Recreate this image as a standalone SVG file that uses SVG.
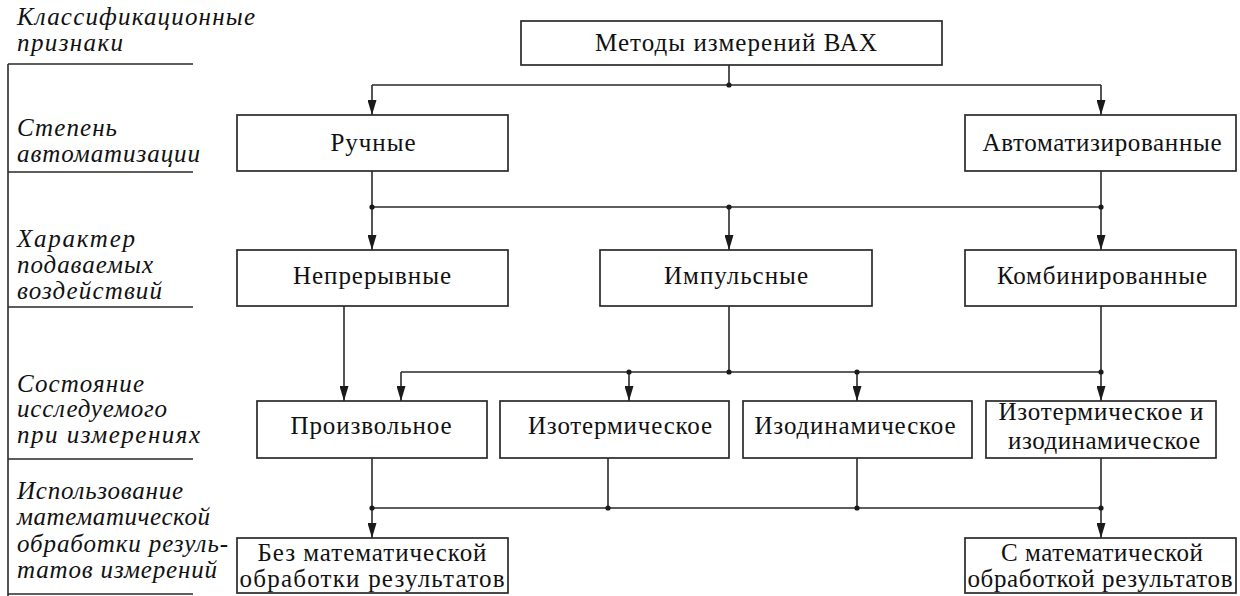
<svg xmlns="http://www.w3.org/2000/svg" width="1240" height="596" viewBox="0 0 1240 596">
<style>
.box{fill:#fff;stroke:#2a2a2a;stroke-width:1.7}
.t{font-family:"Liberation Serif","Times New Roman",serif;font-size:25px;fill:#111;text-anchor:middle}
.lab{font-family:"Liberation Serif","Times New Roman",serif;font-size:25px;font-style:italic;fill:#111}
.ln{fill:none;stroke:#2a2a2a;stroke-width:1.6}
.dot{fill:#1a1a1a}
</style>
<defs>
<marker id="arr" viewBox="0 0 15 9" refX="15" refY="4.5" markerWidth="15" markerHeight="9" markerUnits="userSpaceOnUse" orient="auto">
<path d="M0,0 L15,4.5 L0,9 z" fill="#1a1a1a"/>
</marker>
</defs>
<rect width="1240" height="596" fill="#fff"/>

<g id="classification-axis">
<path class="ln" d="M8,64 V596 M8,64 H193 M8,172 H193 M8,307 H193 M8,459 H193 M8,594 H193" stroke-width="2"/>
<text class="lab" x="17" y="25" textLength="238" lengthAdjust="spacing">Классификационные</text>
<text class="lab" x="17" y="51" textLength="106" lengthAdjust="spacing">признаки</text>
<text class="lab" x="17" y="136" textLength="100" lengthAdjust="spacing">Степень</text>
<text class="lab" x="17" y="162" textLength="183" lengthAdjust="spacing">автоматизации</text>
<text class="lab" x="17" y="247" textLength="118" lengthAdjust="spacing">Характер</text>
<text class="lab" x="17" y="273" textLength="136" lengthAdjust="spacing">подаваемых</text>
<text class="lab" x="17" y="299" textLength="145" lengthAdjust="spacing">воздействий</text>
<text class="lab" x="17" y="392" textLength="127" lengthAdjust="spacing">Состояние</text>
<text class="lab" x="17" y="417" textLength="150" lengthAdjust="spacing">исследуемого</text>
<text class="lab" x="17" y="443" textLength="183" lengthAdjust="spacing">при измерениях</text>
<text class="lab" x="17" y="499" textLength="166" lengthAdjust="spacing">Использование</text>
<text class="lab" x="17" y="525" textLength="193" lengthAdjust="spacing">математической</text>
<text class="lab" x="17" y="552" textLength="211" lengthAdjust="spacing">обработки резуль-</text>
<text class="lab" x="17" y="578" textLength="200" lengthAdjust="spacing">татов измерений</text>
</g>

<g id="connectors">
<path class="ln" d="M729,65 V85 M372,85 H1101"/>
<path class="ln" d="M372,85 V115" marker-end="url(#arr)"/>
<path class="ln" d="M1101,85 V115" marker-end="url(#arr)"/>
<path class="ln" d="M372,207 H1101"/>
<path class="ln" d="M372,171 V250" marker-end="url(#arr)"/>
<path class="ln" d="M729,207 V250" marker-end="url(#arr)"/>
<path class="ln" d="M1101,171 V250" marker-end="url(#arr)"/>
<path class="ln" d="M344,306 V401" marker-end="url(#arr)"/>
<path class="ln" d="M729,306 V372 M401,372 H1101"/>
<path class="ln" d="M401,372 V401" marker-end="url(#arr)"/>
<path class="ln" d="M629,372 V401" marker-end="url(#arr)"/>
<path class="ln" d="M857,372 V401" marker-end="url(#arr)"/>
<path class="ln" d="M1101,306 V401" marker-end="url(#arr)"/>
<path class="ln" d="M608,458 V508 M857,458 V508 M372,508 H1101"/>
<path class="ln" d="M372,458 V538" marker-end="url(#arr)"/>
<path class="ln" d="M1101,458 V538" marker-end="url(#arr)"/>
<circle class="dot" cx="729" cy="85" r="2.6"/>
<circle class="dot" cx="372" cy="207" r="2.6"/>
<circle class="dot" cx="729" cy="207" r="2.6"/>
<circle class="dot" cx="1101" cy="207" r="2.6"/>
<circle class="dot" cx="629" cy="372" r="2.6"/>
<circle class="dot" cx="729" cy="372" r="2.6"/>
<circle class="dot" cx="857" cy="372" r="2.6"/>
<circle class="dot" cx="1101" cy="372" r="2.6"/>
<circle class="dot" cx="372" cy="508" r="2.6"/>
<circle class="dot" cx="608" cy="508" r="2.6"/>
<circle class="dot" cx="857" cy="508" r="2.6"/>
<circle class="dot" cx="1101" cy="508" r="2.6"/>
</g>

<g id="n-methods">
<rect class="box" x="521" y="21" width="421" height="44"/>
<text class="t" x="736" y="51" textLength="282" lengthAdjust="spacing">Методы измерений ВАХ</text>
</g>
<g id="n-manual">
<rect class="box" x="237" y="115" width="271" height="56"/>
<text class="t" x="373" y="151" textLength="85" lengthAdjust="spacing">Ручные</text>
</g>
<g id="n-automated">
<rect class="box" x="965" y="115" width="271" height="56"/>
<text class="t" x="1102" y="151" textLength="239" lengthAdjust="spacing">Автоматизированные</text>
</g>
<g id="n-continuous">
<rect class="box" x="237" y="250" width="271" height="56"/>
<text class="t" x="372" y="284" textLength="158" lengthAdjust="spacing">Непрерывные</text>
</g>
<g id="n-pulse">
<rect class="box" x="600" y="250" width="272" height="56"/>
<text class="t" x="736" y="284" textLength="144" lengthAdjust="spacing">Импульсные</text>
</g>
<g id="n-combined">
<rect class="box" x="965" y="250" width="271" height="56"/>
<text class="t" x="1102" y="284" textLength="210" lengthAdjust="spacing">Комбинированные</text>
</g>
<g id="n-arbitrary">
<rect class="box" x="257" y="401" width="230" height="57"/>
<text class="t" x="371" y="434" textLength="161" lengthAdjust="spacing">Произвольное</text>
</g>
<g id="n-isothermal">
<rect class="box" x="500" y="401" width="229" height="57"/>
<text class="t" x="620" y="434" textLength="184" lengthAdjust="spacing">Изотермическое</text>
</g>
<g id="n-isodynamic">
<rect class="box" x="743" y="401" width="229" height="57"/>
<text class="t" x="855" y="434" textLength="201" lengthAdjust="spacing">Изодинамическое</text>
</g>
<g id="n-both">
<rect class="box" x="986" y="401" width="230" height="57"/>
<text class="t" x="1101" y="420" textLength="205" lengthAdjust="spacing">Изотермическое и</text>
<text class="t" x="1104" y="449" textLength="192" lengthAdjust="spacing">изодинамическое</text>
</g>
<g id="n-without-math">
<rect class="box" x="237" y="538" width="271" height="55"/>
<text class="t" x="372" y="561" textLength="229" lengthAdjust="spacing">Без математической</text>
<text class="t" x="372" y="587" textLength="265" lengthAdjust="spacing">обработки результатов</text>
</g>
<g id="n-with-math">
<rect class="box" x="965" y="538" width="271" height="55"/>
<text class="t" x="1102" y="561" textLength="202" lengthAdjust="spacing">С математической</text>
<text class="t" x="1100" y="587" textLength="265" lengthAdjust="spacing">обработкой результатов</text>
</g>
</svg>
